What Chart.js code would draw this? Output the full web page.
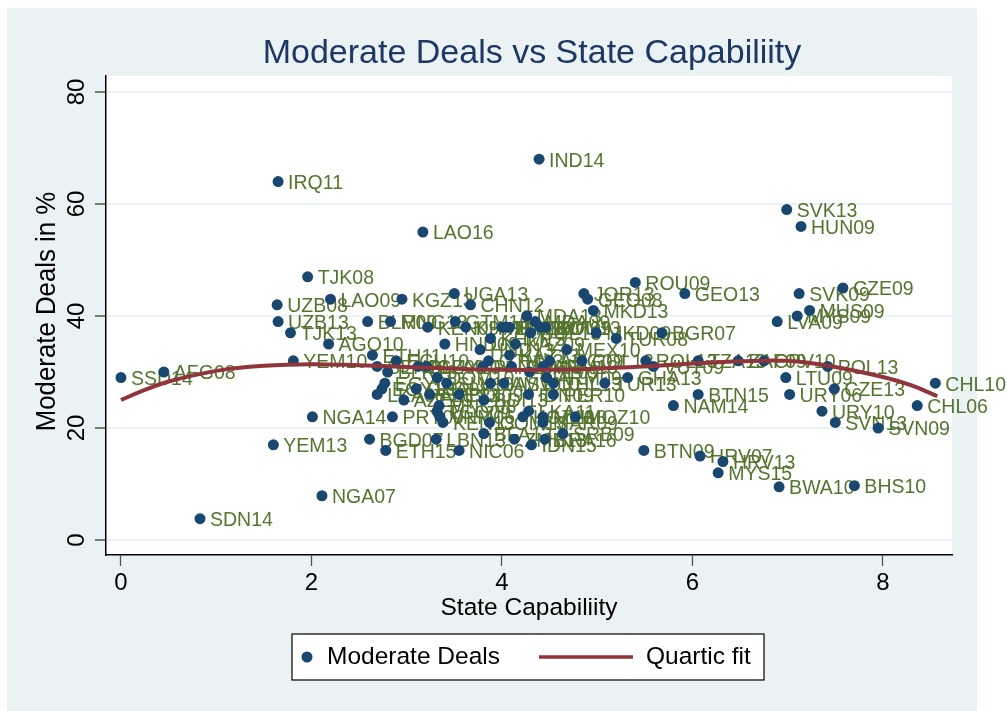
<!DOCTYPE html>
<html><head><meta charset="utf-8">
<style>html,body{margin:0;padding:0;background:#fff}canvas{display:block}</style>
<script src="https://cdn.jsdelivr.net/npm/chart.js@4"></script></head>
<body><div style="width:1007px;height:711px;position:relative"><canvas id="c" width="1007" height="711"></canvas></div>
<script>
const countryLabels=["IND14","IRQ11","SVK13","HUN09","LAO16","TJK08","ROU09","CZE09","UGA13","JOR13","GEO13","SVK09","LAO09","KGZ13","GEO08","UZB08","CHN12","MKD13","MUS09","MDA13","MYS09","UZB13","BLR09","MNG13","GTM10","LVA09","MDA09","KEN09","KHM07","TUN10","BIH10","PHL10","MWI09","ROU13","TJK13","BOL13","MKD09","BGR07","TUR08","KHM13","AGO10","HND09","KAZ09","HND13","MEX10","ETH11","KAZ13","YEM10","ECU10","GTM13","ARG09","COL13","ROL13","TZA13","ZAF09","CPV10","SEN10","BLZ09","GUY10","PAN10","THA13","ARM13","VUT09","POL13","AFG08","BLR13","PHL09","SSD14","DOM10","ARM09","GHA13","LTU09","EGY08","SLV10","JAM10","ASW10","THL13","TUR13","CHL10","EGY13","GHA08","CZE13","LKA08","AZE13","BDI09","IDN09","PER10","BTN15","URY06","AZE09","BDI13","MNG08","NAM14","CHL06","TGO09","LKA11","URY10","NGA14","PRY09","VNM06","KGZ10","MLI10","MOZ10","KEN13","COM13","MAR09","SVN13","SVN09","BFA13","SRB09","BGD07","LBN13","ZMB13","BRA16","YEM13","IDN15","ETH15","NIC06","BTN09","HRV07","HRV13","MYS15","BWA10","BHS10","NGA07","SDN14"];
const capability=[4.39,1.65,6.99,7.14,3.17,1.96,5.40,7.58,3.50,4.86,5.92,7.12,2.20,2.95,4.90,1.64,3.67,4.96,7.23,4.26,7.10,1.65,2.59,2.83,3.51,6.89,4.35,3.22,3.62,4.00,4.05,4.08,4.40,4.46,1.78,4.30,4.99,5.68,5.20,3.88,2.18,3.40,4.14,3.77,4.68,2.64,4.08,1.81,2.89,3.86,4.50,4.84,5.51,6.06,6.48,6.75,2.69,3.12,3.21,3.80,4.10,4.43,5.59,7.42,0.45,2.80,4.29,0,3.32,4.47,5.32,6.98,2.77,3.42,3.88,4.02,4.54,5.08,8.55,2.74,3.10,7.49,2.69,3.24,3.55,4.28,4.54,6.06,7.02,2.97,3.81,3.34,5.80,8.36,3.32,4.28,7.36,2.01,2.85,3.35,4.22,4.43,4.77,3.38,3.87,4.43,7.50,7.95,3.81,4.64,2.61,3.31,4.13,4.45,1.60,4.31,2.78,3.55,5.49,6.08,6.32,6.27,6.91,7.70,2.11,0.83];
const moderateDeals=[68,64,59,56,55,47,46,45,44,44,44,44,43,43,43,42,42,41,41,40,40,39,39,39,39,39,39,38,38,38,38,38,38,38,37,37,37,37,36,36,35,35,35,34,34,33,33,32,32,32,32,32,32,32,32,32,31,31,31,31,31,31,31,31,30,30,30,29,29,29,29,29,28,28,28,28,28,28,28,27,27,27,26,26,26,26,26,26,26,25,25,24,24,24,23,23,23,22,22,22,22,22,22,21,21,21,21,20,19,19,18,18,18,18,17,17,16,16,16,15,14,12,9.5,9.7,7.9,3.8];
const fitX=[0,0.25,0.5,1,1.5,2,2.5,3,3.5,4,4.5,5,5.5,6,6.5,7,7.5,8,8.3,8.57];
const fitY=[25,26.8,28.3,30.2,31.1,31.4,31.2,30.9,30.6,30.4,30.4,30.6,31,31.5,31.9,32,30.9,29.1,27.6,25.7];
const xTicks=[0,2,4,6,8];
const yTicks=[0,20,40,60,80];
const titleText="Moderate Deals vs State Capabiliity";
const xTitle="State Capabiliity";
const yTitle="Moderate Deals in %";
const legendItems=["Moderate Deals","Quartic fit"];

const NAVY="#1a476f",MAROON="#90353b",GREEN="#55752f",BG="#eaf2f3",FF="'Liberation Sans',Arial,sans-serif";
const deco={id:"deco",
 beforeDraw(ch){const g=ch.ctx,a=ch.chartArea;g.save();
  g.fillStyle="#fff";g.fillRect(0,0,1007,711);
  g.fillStyle=BG;g.fillRect(7,8,970,703);
  g.fillStyle="#fff";g.fillRect(a.left,a.top,a.right-a.left,a.bottom-a.top);g.restore();},
 beforeDatasetsDraw(ch){const g=ch.ctx,xs=ch.scales.x,ys=ch.scales.y;g.save();
  g.font="19.5px "+FF;g.fillStyle=GREEN;g.textAlign="left";g.textBaseline="middle";
  countryLabels.forEach((t,i)=>g.fillText(t,xs.getPixelForValue(capability[i])+10,ys.getPixelForValue(moderateDeals[i])+2));
  g.restore();},
 afterDraw(ch){const g=ch.ctx,ys=ch.scales.y;g.save();
  g.fillStyle="#1e3765";g.font="34px "+FF;g.textAlign="center";g.textBaseline="middle";
  g.fillText(titleText,532,54);
  g.fillStyle="#000";g.font="24px "+FF;
  yTicks.forEach(v=>{g.save();g.translate(77,ys.getPixelForValue(v));g.rotate(-Math.PI/2);g.fillText(String(v),0,0);g.restore();});
  g.save();g.font="25.8px "+FF;g.translate(47.5,311.5);g.rotate(-Math.PI/2);g.scale(1,1.1);g.fillText(yTitle,0,0);g.restore();
  g.fillStyle="#fff";g.fillRect(292,634,472,46);
  g.strokeStyle="#000";g.lineWidth=1.2;g.strokeRect(292,634,472,46);
  g.fillStyle=NAVY;g.beginPath();g.arc(307,657,5.5,0,7);g.fill();
  g.strokeStyle=MAROON;g.lineWidth=3.5;g.beginPath();g.moveTo(539,657);g.lineTo(633,657);g.stroke();
  g.fillStyle="#000";g.textAlign="left";g.font="24.5px "+FF;
  g.fillText(legendItems[0],327,657);g.fillText(legendItems[1],646,657);
  g.restore();}
};
new Chart(document.getElementById("c"),{
 type:"scatter",
 data:{datasets:[
  {label:legendItems[1],type:"line",order:1,data:fitX.map((x,i)=>({x,y:fitY[i]})),borderColor:MAROON,borderWidth:4,pointRadius:0,tension:0.35,fill:false},
  {label:legendItems[0],order:2,data:capability.map((x,i)=>({x,y:moderateDeals[i]})),backgroundColor:NAVY,borderColor:NAVY,pointRadius:5.5,borderWidth:0}
 ]},
 plugins:[deco],
 options:{responsive:false,animation:false,
  layout:{padding:{top:76,right:55,left:0,bottom:0}},
  plugins:{legend:{display:false},tooltip:{enabled:false},title:{display:false}},
  scales:{
   x:{type:"linear",min:-0.157,max:8.725,
    afterFit(s){s.height=156;},
    afterBuildTicks(s){s.ticks=xTicks.map(v=>({value:v}));},
    border:{color:"#000",width:1.5},
    grid:{display:true,drawOnChartArea:false,drawTicks:true,tickLength:11,tickColor:"#555",tickWidth:1.3},
    ticks:{color:"#000",font:{family:FF,size:24},maxRotation:0,minRotation:0,padding:3,autoSkip:false},
    title:{display:true,text:xTitle,color:"#000",font:{family:FF,size:24.5},padding:{top:0,bottom:87.6}}},
   y:{type:"linear",min:-2.68,max:82.86,
    afterFit(s){s.width=106;},
    afterBuildTicks(s){s.ticks=yTicks.map(v=>({value:v}));},
    border:{color:"#000",width:1.5},
    grid:{display:true,color:BG,lineWidth:2,drawTicks:true,tickLength:11,tickColor:"#555",tickWidth:1.5},
    ticks:{display:false}}
  }}
});
</script></body></html>
